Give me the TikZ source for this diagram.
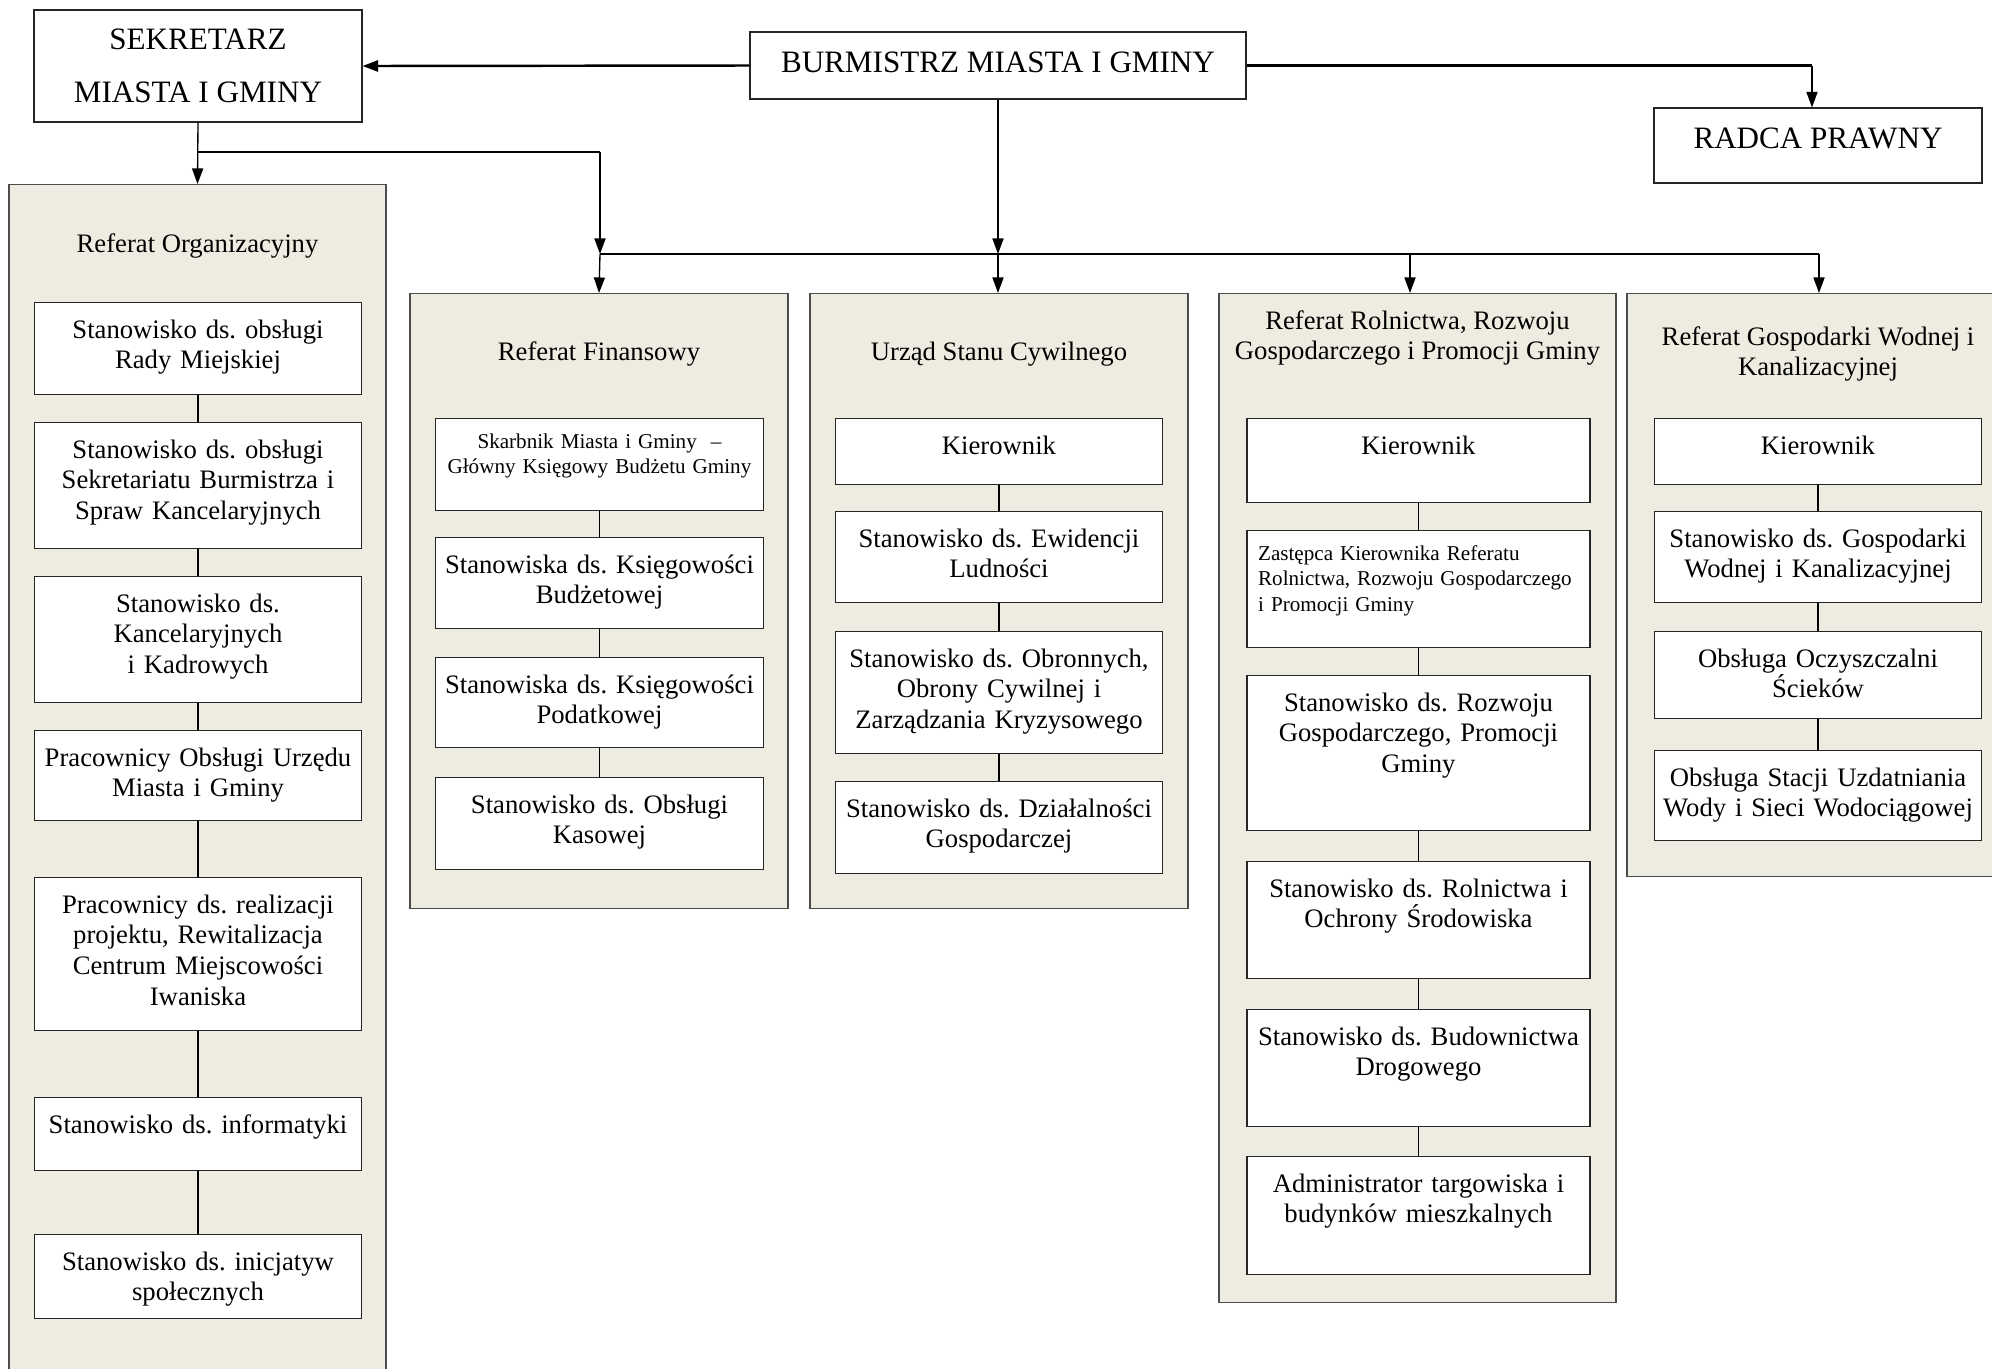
\documentclass[tikz,border=0pt]{standalone}
\usepackage{fontspec}
\setmainfont{Liberation Serif}
\usepackage{xcolor}
\usepackage{tikz}
\usetikzlibrary{arrows.meta}
\usetikzlibrary{positioning}

\definecolor{tlo}{RGB}{238,236,225}
\frenchspacing

\begin{document}
\begin{tikzpicture}[x=0.45pt, y=-0.45pt,
    every node/.style={font=\fontsize{12pt}{13.8pt}\selectfont, inner sep=0pt},
    szef/.style={draw=black!85, fill=white, line width=0.5pt, font=\fontsize{14pt}{16pt}\selectfont, align=center},
    kolumna/.style={draw=black!70, fill=tlo, line width=0.5pt, anchor=north},
    naglowek/.style={align=center},
    stanowisko/.style={draw=black!85, fill=white, line width=0.5pt, anchor=north, align=center,
        text width=141.4pt, inner xsep=3pt, text height=16pt},
    maly/.style={font=\fontsize{9.5pt}{11.4pt}\selectfont, text height=13.5pt},
    linia/.style={line width=0.5pt},
    gruba/.style={line width=1.1pt},
    strzalka/.style={-{Triangle[length=7pt, width=5pt]}, line width=0.6pt}]

        \useasboundingbox (0,0) rectangle (1992,1368);
        \clip (0,0) rectangle (1992,1368);

        % Kierownictwo
        \node[szef, minimum width=147.6pt, minimum height=50.4pt] (sekr) at (198,66) {SEKRETARZ\\[8pt]MIASTA I GMINY};
        \node[szef, minimum width=223.2pt, minimum height=30.15pt, text height=9.5pt, text depth=3.6pt] (burm) at (998,65.5) {BURMISTRZ MIASTA I GMINY};
        \node[szef, minimum width=147.6pt, minimum height=33.75pt, text height=9.5pt, text depth=7pt] (radca) at (1818,145.5) {RADCA PRAWNY};

        % Referaty
        \node[kolumna, minimum width=169.65pt, minimum height=560pt] (org) at (197.5,184) {};
        \node[kolumna, minimum width=170.1pt, minimum height=276.75pt] (fin) at (599,293) {};
        \node[kolumna, minimum width=170.1pt, minimum height=276.75pt] (usc) at (999,293) {};
        \node[kolumna, minimum width=178.65pt, minimum height=454.05pt] (rol) at (1417.5,293) {};
        \node[kolumna, minimum width=172.35pt, minimum height=262.35pt] (gw) at (1818.5,293) {};

        \node[naglowek] (tOrg) at (197.5,246) {Referat Organizacyjny};
        \node[naglowek] (tFin) at (599,354) {Referat Finansowy};
        \node[naglowek] (tUsc) at (999,354) {Urząd Stanu Cywilnego};
        \node[naglowek] (tRol) at (1417.5,338) {Referat Rolnictwa, Rozwoju\\Gospodarczego i Promocji Gminy};
        \node[naglowek] (tGw) at (1818,354) {Referat Gospodarki Wodnej i\\Kanalizacyjnej};

        % Referat Organizacyjny
        \node[stanowisko, text depth=25.4pt] (o1) at (198,302) {Stanowisko ds. obsługi\\Rady Miejskiej};
        \node[stanowisko, text depth=40.7pt] (o2) at (198,422) {Stanowisko ds. obsługi\\Sekretariatu Burmistrza i\\Spraw Kancelaryjnych};
        \node[stanowisko, text depth=40.7pt] (o3) at (198,576) {Stanowisko ds.\\Kancelaryjnych\\i Kadrowych};
        \node[stanowisko, text depth=24.5pt] (o4) at (198,730) {Pracownicy Obsługi Urzędu\\Miasta i Gminy};
        \node[stanowisko, text depth=52.85pt] (o5) at (198,877) {Pracownicy ds. realizacji\\projektu, Rewitalizacja\\Centrum Miejscowości\\Iwaniska};
        \node[stanowisko, text depth=16.85pt] (o6) at (198,1097) {Stanowisko ds. informatyki};
        \node[stanowisko, text depth=21.8pt] (o7) at (198,1234) {Stanowisko ds. inicjatyw\\społecznych};

        % Referat Finansowy
        \node[stanowisko, maly, text depth=27.9pt] (f1) at (599.5,418) {Skarbnik Miasta i Gminy~ –\\Główny Księgowy Budżetu Gminy};
        \node[stanowisko, text depth=24.95pt] (f2) at (599.5,537) {Stanowiska ds. Księgowości\\Budżetowej};
        \node[stanowisko, text depth=24.5pt] (f3) at (599.5,657) {Stanowiska ds. Księgowości\\Podatkowej};
        \node[stanowisko, text depth=25.4pt] (f4) at (599.5,777) {Stanowisko ds. Obsługi\\Kasowej};

        % Urzad Stanu Cywilnego
        \node[stanowisko, text depth=13.7pt] (u1) at (999,418) {Kierownik};
        \node[stanowisko, text depth=24.95pt] (u2) at (999,511) {Stanowisko ds. Ewidencji\\Ludności};
        \node[stanowisko, text depth=38.9pt] (u3) at (999,631) {Stanowisko ds. Obronnych,\\Obrony Cywilnej i\\Zarządzania Kryzysowego};
        \node[stanowisko, text depth=25.4pt] (u4) at (999,781) {Stanowisko ds. Działalności\\Gospodarczej};

        % Referat Rolnictwa
        \node[stanowisko, text width=148.35pt, text depth=21.8pt] (r1) at (1418.5,418) {Kierownik};
        \node[stanowisko, maly, align=left, text width=144.35pt, inner xsep=5pt, text depth=39.15pt] (r2) at (1418.5,530) {Zastępca Kierownika Referatu\\Rolnictwa, Rozwoju Gospodarczego\\i Promocji Gminy};
        \node[stanowisko, text width=148.35pt, text depth=53.75pt] (r3) at (1418.5,675) {Stanowisko ds. Rozwoju\\Gospodarczego, Promocji\\Gminy};
        \node[stanowisko, text width=148.35pt, text depth=36.65pt] (r4) at (1418.5,861) {Stanowisko ds. Rolnictwa i\\Ochrony Środowiska};
        \node[stanowisko, text width=148.35pt, text depth=36.65pt] (r5) at (1418.5,1009) {Stanowisko ds. Budownictwa\\Drogowego};
        \node[stanowisko, text width=148.35pt, text depth=37.1pt] (r6) at (1418.5,1156) {Administrator targowiska i\\budynków mieszkalnych};

        % Referat Gospodarki Wodnej
        \node[stanowisko, text depth=13.7pt] (g1) at (1818,418) {Kierownik};
        \node[stanowisko, text depth=24.95pt] (g2) at (1818,511) {Stanowisko ds. Gospodarki\\Wodnej i Kanalizacyjnej};
        \node[stanowisko, text depth=23.15pt] (g3) at (1818,631) {Obsługa Oczyszczalni\\Ścieków};
        \node[stanowisko, text depth=24.5pt] (g4) at (1818,750) {Obsługa Stacji Uzdatniania\\Wody i Sieci Wodociągowej};

        % Punkty rozgalezien
        \coordinate (s1) at (198,152);
        \coordinate (s2) at (600,152);
        \coordinate (b1) at (600,254);
        \coordinate (b2) at (998,254);
        \coordinate (b3) at (1410,254);
        \coordinate (b4) at (1819,254);
        \coordinate (k1) at (1812,65.5);

        % Polaczenia
        \draw[strzalka, gruba] (burm.west) -- (sekr.east);
        \draw[gruba] (burm.east) -- (k1);
        \draw[strzalka] (k1) -- (k1 |- radca.north);
        \draw[strzalka] (sekr.south) -- (org.north);
        \draw[gruba] (s1) -- (s2);
        \draw[strzalka] (s2) -- (b1);
        \draw[strzalka] (b1) -- (fin.north);
        \draw[strzalka] (burm.south) -- (b2);
        \draw[strzalka] (b2) -- (b2 |- usc.north);
        \draw[gruba] (b1) -- (b4);
        \draw[strzalka] (b3) -- (b3 |- rol.north);
        \draw[strzalka] (b4) -- (b4 |- gw.north);

        \draw[linia] (o1) -- (o2);
        \draw[linia] (o2) -- (o3);
        \draw[linia] (o3) -- (o4);
        \draw[linia] (o4) -- (o5);
        \draw[linia] (o5) -- (o6);
        \draw[linia] (o6) -- (o7);

        \draw[linia] (f1) -- (f2);
        \draw[linia] (f2) -- (f3);
        \draw[linia] (f3) -- (f4);

        \draw[linia] (u1) -- (u2);
        \draw[linia] (u2) -- (u3);
        \draw[linia] (u3) -- (u4);

        \draw[linia] (r1) -- (r2);
        \draw[linia] (r2) -- (r3);
        \draw[linia] (r3) -- (r4);
        \draw[linia] (r4) -- (r5);
        \draw[linia] (r5) -- (r6);

        \draw[linia] (g1) -- (g2);
        \draw[linia] (g2) -- (g3);
        \draw[linia] (g3) -- (g4);

    \end{tikzpicture}
\end{document}
